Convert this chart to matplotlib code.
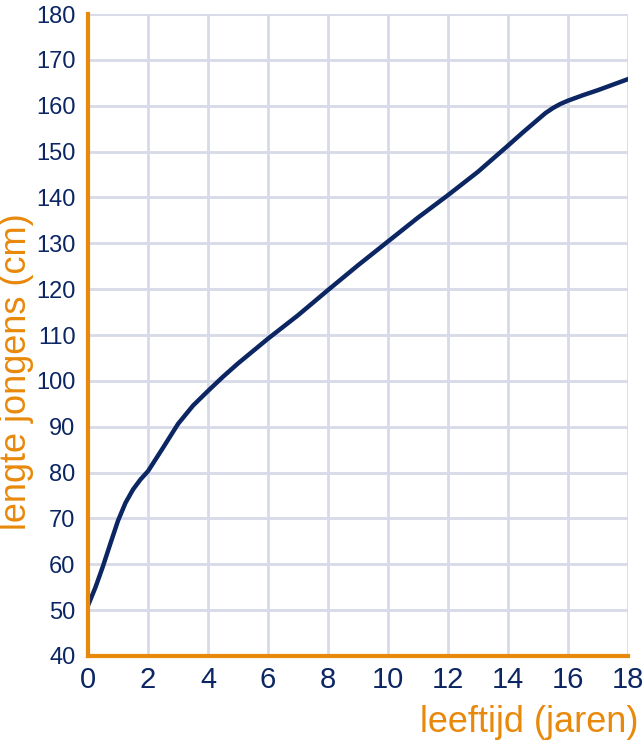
import matplotlib as mpl
mpl.use("Agg")
import matplotlib.pyplot as plt
import numpy as np

plt.rcParams['font.family'] = ['Liberation Sans', 'DejaVu Sans']

# leeftijd (jaren) en lengte (cm)
leeftijd = [0, 0.25, 0.5, 0.75, 1, 1.25, 1.5, 1.75, 2, 2.5, 3, 3.5, 4, 4.5, 5, 6, 7, 8, 9, 10,
            11, 12, 13, 14, 14.5, 15, 15.25, 15.5, 15.75, 16, 16.5, 17, 18]
lengte = [51, 55, 59.6, 64.6, 69.5, 73.4, 76.3, 78.5, 80.3, 85.4, 90.6, 94.6, 97.8, 100.9, 103.8,
          109.2, 114.3, 119.8, 125.2, 130.4, 135.6, 140.5, 145.6, 151.3, 154.2, 157.0, 158.4,
          159.5, 160.4, 161.1, 162.3, 163.4, 165.8]

x_ticks = list(range(0, 19, 2))
y_ticks = list(range(40, 181, 10))

oranje = '#E8890C'
blauw = '#0B2662'
grid_kleur = '#D7DBE8'

fig = plt.figure(figsize=(6.42, 7.43), dpi=100)
ax = fig.add_axes([88/642, 87/743, 540/642, 642/743])

ax.plot(leeftijd, lengte, color=blauw, lw=3.2, solid_joinstyle='round', zorder=3)

ax.set_xlim(0, 18)
ax.set_ylim(40, 180)
ax.set_xticks(x_ticks)
ax.set_yticks(y_ticks)
ax.grid(True, color=grid_kleur, lw=2)
ax.set_axisbelow(True)

for s in ['top', 'right']:
    ax.spines[s].set_visible(False)
for s in ['left', 'bottom']:
    ax.spines[s].set_color(oranje)
    ax.spines[s].set_linewidth(3)
    ax.spines[s].set_zorder(4)

ax.tick_params(axis='both', length=0, colors=blauw)
ax.tick_params(axis='x', labelsize=21, pad=7)
ax.tick_params(axis='y', labelsize=17, pad=9)

fig.text(0.995, 0.028, 'leeftijd (jaren)', color=oranje, fontsize=26, ha='right', va='center')
fig.text(0.026, 0.50, 'lengte jongens (cm)', color=oranje, fontsize=26, rotation=90, ha='center', va='center')

plt.savefig("out.png", dpi=100)
